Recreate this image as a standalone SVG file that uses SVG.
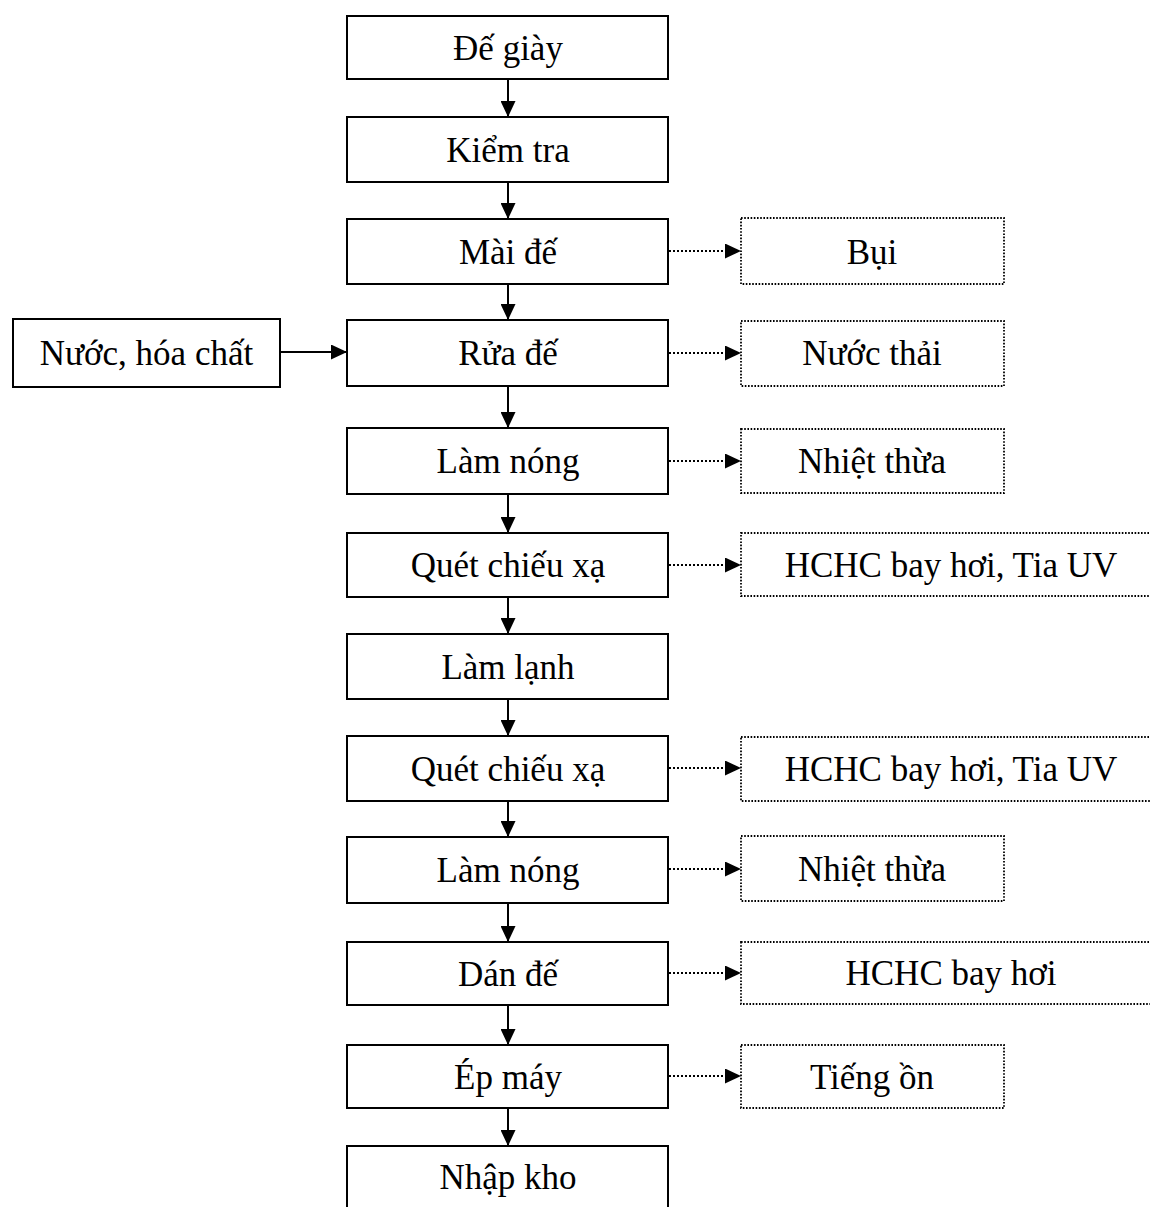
<svg xmlns="http://www.w3.org/2000/svg" width="1150" height="1207" viewBox="0 0 1150 1207">
  <style>
    .box { fill: #fff; stroke: #000; stroke-width: 2; }
    .dbox { fill: #fff; stroke: #000; stroke-width: 1.8; stroke-dasharray: 1.6 1.6; }
    .lbl { font-family: "Liberation Serif", "Times New Roman", serif; font-size: 35px; fill: #000; text-anchor: middle; }
    .flow { stroke: #000; stroke-width: 2; fill: none; marker-end: url(#head); }
    .emit { stroke: #000; stroke-width: 2; stroke-dasharray: 2 2; fill: none; marker-end: url(#head); }
  </style>
  <defs>
    <marker id="head" markerUnits="userSpaceOnUse" markerWidth="16" markerHeight="15" refX="16" refY="7.5" orient="auto">
      <path d="M0,0 L16,7.5 L0,15 z" fill="#000"/>
    </marker>
  </defs>

  <!-- connectors -->
  <g id="connectors">
    <line class="flow" x1="508" y1="79" x2="508" y2="117"/>
    <line class="flow" x1="508" y1="182" x2="508" y2="219"/>
    <line class="flow" x1="508" y1="284" x2="508" y2="320"/>
    <line class="flow" x1="508" y1="386" x2="508" y2="428"/>
    <line class="flow" x1="508" y1="494" x2="508" y2="533"/>
    <line class="flow" x1="508" y1="597" x2="508" y2="634"/>
    <line class="flow" x1="508" y1="699" x2="508" y2="736"/>
    <line class="flow" x1="508" y1="801" x2="508" y2="837"/>
    <line class="flow" x1="508" y1="903" x2="508" y2="942"/>
    <line class="flow" x1="508" y1="1005" x2="508" y2="1045"/>
    <line class="flow" x1="508" y1="1108" x2="508" y2="1146"/>
    <line class="flow" x1="280" y1="352" x2="347" y2="352"/>
    <line class="emit" x1="669" y1="251" x2="741" y2="251"/>
    <line class="emit" x1="669" y1="353" x2="741" y2="353"/>
    <line class="emit" x1="669" y1="461" x2="741" y2="461"/>
    <line class="emit" x1="669" y1="565" x2="741" y2="565"/>
    <line class="emit" x1="669" y1="768" x2="741" y2="768"/>
    <line class="emit" x1="669" y1="869" x2="741" y2="869"/>
    <line class="emit" x1="669" y1="973" x2="741" y2="973"/>
    <line class="emit" x1="669" y1="1076" x2="741" y2="1076"/>
  </g>

  <!-- process steps -->
  <g id="de-giay"><rect class="box" x="347" y="16" width="321" height="63"/><text class="lbl" x="508" y="60">Đế giày</text></g>
  <g id="kiem-tra"><rect class="box" x="347" y="117" width="321" height="65"/><text class="lbl" x="508" y="162">Kiểm tra</text></g>
  <g id="mai-de"><rect class="box" x="347" y="219" width="321" height="65"/><text class="lbl" x="508" y="264">Mài đế</text></g>
  <g id="rua-de"><rect class="box" x="347" y="320" width="321" height="66"/><text class="lbl" x="508" y="365">Rửa đế</text></g>
  <g id="lam-nong-1"><rect class="box" x="347" y="428" width="321" height="66"/><text class="lbl" x="508" y="473">Làm nóng</text></g>
  <g id="quet-1"><rect class="box" x="347" y="533" width="321" height="64"/><text class="lbl" x="508" y="577">Quét chiếu xạ</text></g>
  <g id="lam-lanh"><rect class="box" x="347" y="634" width="321" height="65"/><text class="lbl" x="508" y="679">Làm lạnh</text></g>
  <g id="quet-2"><rect class="box" x="347" y="736" width="321" height="65"/><text class="lbl" x="508" y="781">Quét chiếu xạ</text></g>
  <g id="lam-nong-2"><rect class="box" x="347" y="837" width="321" height="66"/><text class="lbl" x="508" y="882">Làm nóng</text></g>
  <g id="dan-de"><rect class="box" x="347" y="942" width="321" height="63"/><text class="lbl" x="508" y="986">Dán đế</text></g>
  <g id="ep-may"><rect class="box" x="347" y="1045" width="321" height="63"/><text class="lbl" x="508" y="1089">Ép máy</text></g>
  <g id="nhap-kho"><rect class="box" x="347" y="1146" width="321" height="70"/><text class="lbl" x="508" y="1189">Nhập kho</text></g>

  <!-- input -->
  <g id="nuoc-hoa-chat"><rect class="box" x="13" y="319" width="267" height="68"/><text class="lbl" x="146.5" y="365">Nước, hóa chất</text></g>

  <!-- emissions -->
  <g id="bui"><rect class="dbox" x="741" y="218" width="263" height="66"/><text class="lbl" x="872" y="264">Bụi</text></g>
  <g id="nuoc-thai"><rect class="dbox" x="741" y="321" width="263" height="65"/><text class="lbl" x="872" y="365">Nước thải</text></g>
  <g id="nhiet-thua-1"><rect class="dbox" x="741" y="429" width="263" height="64"/><text class="lbl" x="872" y="473">Nhiệt thừa</text></g>
  <g id="hchc-uv-1"><rect class="dbox" x="741" y="533" width="430" height="63"/><text class="lbl" x="951" y="577">HCHC bay hơi, Tia UV</text></g>
  <g id="hchc-uv-2"><rect class="dbox" x="741" y="737" width="430" height="64"/><text class="lbl" x="951" y="781">HCHC bay hơi, Tia UV</text></g>
  <g id="nhiet-thua-2"><rect class="dbox" x="741" y="836" width="263" height="65"/><text class="lbl" x="872" y="881">Nhiệt thừa</text></g>
  <g id="hchc"><rect class="dbox" x="741" y="942" width="430" height="62"/><text class="lbl" x="951" y="985">HCHC bay hơi</text></g>
  <g id="tieng-on"><rect class="dbox" x="741" y="1045" width="263" height="63"/><text class="lbl" x="872" y="1089">Tiếng ồn</text></g>
</svg>
